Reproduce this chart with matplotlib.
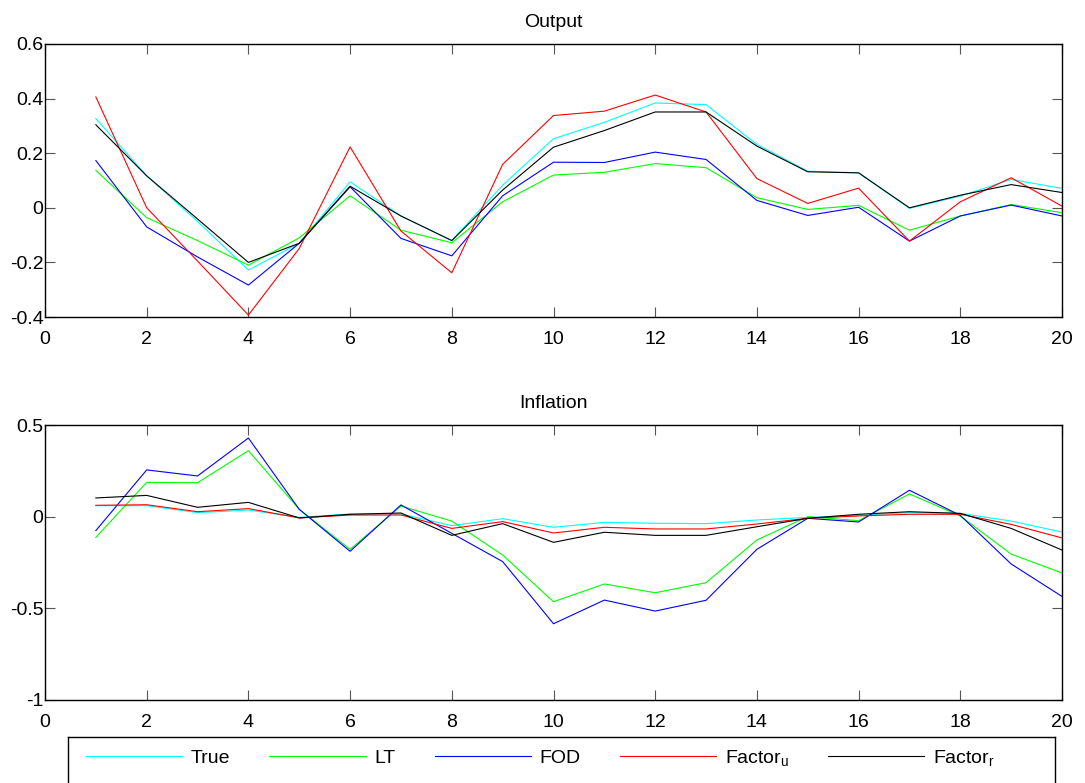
import numpy as np
import matplotlib
matplotlib.use('Agg')
import matplotlib.pyplot as plt

plt.rcParams['font.family'] = ['Liberation Sans', 'DejaVu Sans']
plt.rcParams['mathtext.fontset'] = 'custom'
plt.rcParams['mathtext.rm'] = 'Liberation Sans'
plt.rcParams['mathtext.it'] = 'Liberation Sans'

# horizons 1..20
h = np.arange(1, 21)

# Output responses
out_true = [0.327, 0.117, -0.05, -0.228, -0.13, 0.095, -0.03, -0.12, 0.083, 0.253,
            0.313, 0.384, 0.378, 0.232, 0.134, 0.128, -0.002, 0.043, 0.104, 0.071]
out_lt = [0.137, -0.036, -0.12, -0.21, -0.11, 0.044, -0.082, -0.128, 0.022, 0.12,
          0.13, 0.162, 0.147, 0.037, -0.006, 0.009, -0.082, -0.03, 0.012, -0.018]
out_fod = [0.173, -0.07, -0.18, -0.283, -0.13, 0.077, -0.112, -0.176, 0.044, 0.167,
           0.166, 0.204, 0.177, 0.027, -0.028, 0.002, -0.122, -0.03, 0.01, -0.03]
out_fu = [0.406, 0.0, -0.195, -0.393, -0.149, 0.223, -0.085, -0.238, 0.159, 0.338,
          0.354, 0.413, 0.351, 0.107, 0.016, 0.072, -0.122, 0.022, 0.11, 0.006]
out_fr = [0.304, 0.117, -0.041, -0.2, -0.13, 0.079, -0.03, -0.12, 0.065, 0.222,
          0.283, 0.351, 0.351, 0.226, 0.132, 0.128, 0.0, 0.046, 0.085, 0.056]

# Inflation responses
inf_true = [0.06, 0.06, 0.022, 0.036, -0.004, 0.015, 0.015, -0.049, -0.011, -0.058,
            -0.031, -0.036, -0.038, -0.018, -0.004, 0.007, 0.022, 0.018, -0.024, -0.084]
inf_lt = [-0.113, 0.187, 0.185, 0.36, 0.04, -0.178, 0.058, -0.024, -0.209, -0.464,
          -0.367, -0.415, -0.36, -0.127, 0.0, -0.022, 0.124, 0.004, -0.204, -0.307]
inf_fod = [-0.076, 0.255, 0.222, 0.429, 0.04, -0.189, 0.064, -0.091, -0.245, -0.584,
           -0.455, -0.515, -0.456, -0.178, -0.009, -0.029, 0.144, 0.007, -0.258, -0.435]
inf_fu = [0.062, 0.065, 0.027, 0.044, -0.007, 0.009, 0.009, -0.064, -0.027, -0.089,
          -0.058, -0.067, -0.067, -0.04, -0.009, 0.004, 0.013, 0.013, -0.042, -0.116]
inf_fr = [0.102, 0.116, 0.051, 0.078, -0.007, 0.013, 0.02, -0.102, -0.038, -0.14,
          -0.085, -0.102, -0.102, -0.055, -0.009, 0.013, 0.027, 0.018, -0.064, -0.182]

labels = ['True', 'LT', 'FOD', r'Factor$_u$', r'Factor$_r$']
colors = ['#00ffff', '#00ff00', '#0000ff', '#ff0000', '#000000']

W, H = 1085, 783
fig = plt.figure(figsize=(W / 100, H / 100), dpi=100)

def style(ax, title, yticks, ylabels, ylim):
    ax.set_xlim(0, 20)
    ax.set_xticks(range(0, 21, 2))
    ax.set_ylim(*ylim)
    ax.set_yticks(yticks)
    ax.set_yticklabels(ylabels)
    ax.set_title(title, fontsize=14, pad=12)
    ax.tick_params(direction='in', length=7.5, width=0.8, color='#555555',
                   top=True, right=True, labelsize=14)
    ax.tick_params(axis='x', pad=10)
    ax.tick_params(axis='y', pad=1)
    for s in ax.spines.values():
        s.set_linewidth(1.0)
        s.set_color('black')

ax1 = fig.add_axes([45 / W, 1 - 317 / H, 1017 / W, 273 / H])
for y, c in zip([out_true, out_lt, out_fod, out_fu, out_fr], colors):
    ax1.plot(h, y, color=c, lw=0.8)
style(ax1, 'Output', [-0.4, -0.2, 0, 0.2, 0.4, 0.6],
      ['-0.4', '-0.2', '0', '0.2', '0.4', '0.6'], (-0.4, 0.6))

ax2 = fig.add_axes([45 / W, 1 - 700 / H, 1017 / W, 275 / H])
lines = []
for y, c in zip([inf_true, inf_lt, inf_fod, inf_fu, inf_fr], colors):
    ln, = ax2.plot(h, y, color=c, lw=0.8)
    lines.append(ln)
style(ax2, 'Inflation', [-1, -0.5, 0, 0.5], ['-1', '-0.5', '0', '0.5'], (-1, 0.5))

# legend box (cut off at the bottom like the original)
axl = fig.add_axes([68 / W, -0.1, 987 / W, 0.1 + 46 / H])
axl.set_xticks([])
axl.set_yticks([])
for s in axl.spines.values():
    s.set_linewidth(1.0)

fig.legend(lines, labels, loc='center left', bbox_to_anchor=(86 / W, 1 - 758 / H),
           ncol=5, frameon=False, borderpad=0, borderaxespad=0, fontsize=14,
           handlelength=4.95, handletextpad=0.45, columnspacing=2.0)

plt.savefig('out.png', dpi=100)
